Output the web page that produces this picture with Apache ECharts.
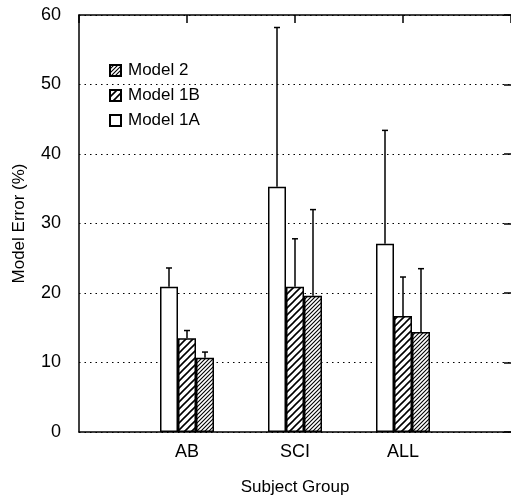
<!DOCTYPE html>
<html>
<head>
<meta charset="UTF-8">
<title>Model Error</title>
<script src="https://cdn.jsdelivr.net/npm/echarts@6/dist/echarts.min.js"></script>
<style>
  html, body { margin: 0; padding: 0; background: #fff; }
  #main { width: 511px; height: 497px; }
</style>
</head>
<body>
<div id="main"></div>
<script type="text/javascript">
// data
var categories = ['', 'AB', 'SCI', 'ALL', ''];
var model1A = [null, 20.9, 35.3, 27.1, null];
var model1B = [null, 13.5, 20.9, 16.7, null];
var model2 = [null, 10.7, 19.6, 14.4, null];
// top of each error bar
var err1A = [null, 23.6, 58.2, 43.4, null];
var err1B = [null, 14.6, 27.8, 22.3, null];
var err2 = [null, 11.5, 32.0, 23.5, null];
var yTicks = [0, 10, 20, 30, 40, 50, 60];

var FONT = '"Liberation Sans", Arial, sans-serif';

// hatch fill as a repeating canvas tile
function hatch(size, width) {
  var c = document.createElement('canvas');
  c.width = size; c.height = size;
  var ctx = c.getContext('2d');
  ctx.fillStyle = '#fff';
  ctx.fillRect(0, 0, size, size);
  ctx.strokeStyle = '#000';
  ctx.lineWidth = width;
  ctx.beginPath();
  ctx.moveTo(-1, size + 1); ctx.lineTo(size + 1, -1);
  ctx.moveTo(-1, 1); ctx.lineTo(1, -1);
  ctx.moveTo(size - 1, size + 1); ctx.lineTo(size + 1, size - 1);
  ctx.stroke();
  return { image: c, repeat: 'repeat' };
}

function pairs(vals, tops) {
  var out = [];
  for (var i = 0; i < vals.length; i++) {
    if (vals[i] != null) out.push([i, vals[i], tops[i]]);
  }
  return out;
}

var BAR_W = 18;

function errorBar(offset) {
  return function (params, api) {
    var base = api.coord([api.value(0), api.value(1)]);
    var top = api.coord([api.value(0), api.value(2)]);
    var x = base[0] + offset;
    var st = { stroke: '#000', lineWidth: 1.5 };
    return {
      type: 'group',
      children: [
        { type: 'line', shape: { x1: x, y1: base[1], x2: x, y2: top[1] }, style: st },
        { type: 'line', shape: { x1: x - 3, y1: top[1], x2: x + 3, y2: top[1] }, style: st }
      ]
    };
  };
}

var barStyle = function (fill) {
  return { color: fill, borderColor: '#000', borderWidth: 1.5 };
};

var myChart = echarts.init(document.getElementById('main'));

var option = {
  backgroundColor: '#fff',
  animation: false,
  grid: { left: 79, right: 0, top: 15, bottom: 65, containLabel: false, outerBoundsMode: 'none' },
  legend: {
    data: ['Model 2', 'Model 1B', 'Model 1A'],
    orient: 'vertical',
    left: 104,
    top: 57,
    icon: 'rect',
    itemWidth: 11,
    itemHeight: 11,
    itemGap: 8,
    textStyle: { color: '#000', fontSize: 17, fontFamily: FONT, padding: [0, 0, 0, 2] }
  },
  xAxis: [{
    type: 'category',
    data: categories,
    boundaryGap: false,
    axisLine: { onZero: false, lineStyle: { color: '#000', width: 1.5 } },
    axisTick: { show: false },
    axisLabel: { color: '#000', fontSize: 18, fontFamily: FONT, margin: 11 },
    name: 'Subject Group',
    nameLocation: 'middle',
    nameGap: 47,
    nameTextStyle: { color: '#000', fontSize: 17, fontFamily: FONT }
  }, {
    type: 'category',
    position: 'top',
    data: categories,
    boundaryGap: false,
    axisLine: { onZero: false, lineStyle: { color: '#000', width: 1.5 } },
    axisTick: { show: true, inside: true, length: 8, lineStyle: { color: '#000', width: 1.5 } },
    axisLabel: { show: false }
  }],
  yAxis: [{
    type: 'value',
    min: yTicks[0],
    max: yTicks[yTicks.length - 1],
    interval: 10,
    axisLine: { show: true, lineStyle: { color: '#000', width: 1.5 } },
    axisTick: { show: false },
    axisLabel: { color: '#000', fontSize: 18, fontFamily: FONT, margin: 18 },
    splitLine: { lineStyle: { color: '#000', width: 1.2, type: [1.5, 4] } },
    name: 'Model Error (%)',
    nameLocation: 'middle',
    nameGap: 51,
    nameTextStyle: { color: '#000', fontSize: 17, fontFamily: FONT }
  }, {
    type: 'value',
    position: 'right',
    min: yTicks[0],
    max: yTicks[yTicks.length - 1],
    interval: 10,
    axisLine: { show: false },
    axisTick: { show: true, inside: true, length: 7, lineStyle: { color: '#000', width: 1.5 } },
    axisLabel: { show: false },
    splitLine: { show: false }
  }],
  series: [{
    name: 'Model 1A',
    type: 'bar',
    data: model1A,
    barWidth: BAR_W,
    barGap: '0%',
    itemStyle: barStyle('#fff')
  }, {
    name: 'Model 1B',
    type: 'bar',
    data: model1B,
    barWidth: BAR_W,
    barGap: '0%',
    itemStyle: barStyle(hatch(7, 1.6))
  }, {
    name: 'Model 2',
    type: 'bar',
    data: model2,
    barWidth: BAR_W,
    barGap: '0%',
    itemStyle: barStyle(hatch(4, 1.1))
  }, {
    name: 'err1A',
    type: 'custom',
    renderItem: errorBar(-BAR_W),
    data: pairs(model1A, err1A),
    z: 5
  }, {
    name: 'err1B',
    type: 'custom',
    renderItem: errorBar(0),
    data: pairs(model1B, err1B),
    z: 5
  }, {
    name: 'err2',
    type: 'custom',
    renderItem: errorBar(BAR_W),
    data: pairs(model2, err2),
    z: 5
  }]
};

myChart.setOption(option);
</script>
</body>
</html>
